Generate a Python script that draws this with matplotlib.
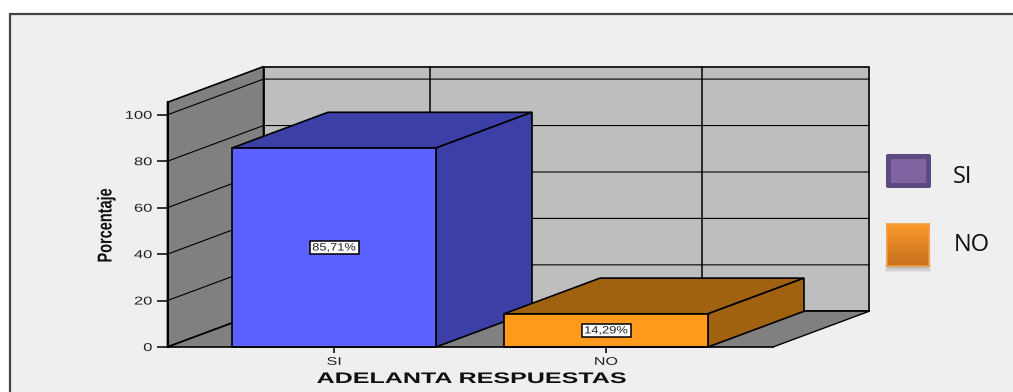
import numpy as np
import matplotlib
matplotlib.use("Agg")
import matplotlib.pyplot as plt
from matplotlib.patches import Polygon, Rectangle, FancyBboxPatch
from matplotlib.patheffects import AbstractPathEffect
from matplotlib.transforms import Affine2D
from matplotlib.colors import LinearSegmentedColormap

categories = ["SI", "NO"]
values = [85.71, 14.29]
value_labels = ["85,71%", "14,29%"]
y_ticks = [0, 20, 40, 60, 80, 100]
xlabel = "ADELANTA RESPUESTAS"
ylabel = "Porcentaje"
legend_labels = ["SI", "NO"]

W, H = 1013, 392
SANS = "Liberation Sans"


class Stretch(AbstractPathEffect):
    """Scale a text's glyphs, as the stretched image in the reference does."""

    def __init__(self, sx=1.0, sy=1.0, anchor="center"):
        super().__init__()
        self.sx, self.sy, self.anchor = sx, sy, anchor

    def draw_path(self, renderer, gc, tpath, affine, rgbFace=None):
        bb = tpath.get_extents(affine)
        ax_ = bb.x1 if self.anchor == "right" else (bb.x0 + bb.x1) / 2
        ay_ = (bb.y0 + bb.y1) / 2
        t = affine + Affine2D().translate(-ax_, -ay_).scale(self.sx, self.sy).translate(ax_, ay_)
        renderer.draw_path(gc, tpath, t, rgbFace)


fig = plt.figure(figsize=(W / 100, H / 100), dpi=100, facecolor="white")
px = Affine2D().scale(1 / W, -1 / H).translate(0, 1) + fig.transFigure

# panel frame
fig.add_artist(Rectangle((10, 14), W, H, transform=px, facecolor="#efefef",
                         edgecolor="#444444", linewidth=1.6, zorder=-5))

L, R, B, T = 167.5, 773, 347, 102.3
ax = fig.add_axes([L / W, 1 - B / H, (R - L) / W, (B - T) / H], zorder=1)
ax.patch.set_alpha(0)
unit = 272.0
vscale = 2.322
ax.set_xlim((L - 334) / unit, (R - 334) / unit)
ax.set_ylim(0, (B - T) / vscale)
ymax = ax.get_ylim()[1]
x0, x1 = ax.get_xlim()
DX, DY = 96 / unit, 35.7 / vscale
BW = 204 / unit


def poly(pts, fc, lw=1.2, z=2):
    ax.add_patch(Polygon(pts, closed=True, facecolor=fc, edgecolor="black",
                         linewidth=lw, zorder=z, clip_on=False))


# walls and floor
poly([(x0 + DX, DY), (x1 + DX, DY), (x1 + DX, ymax + DY), (x0 + DX, ymax + DY)], "#bebebe", z=1)
poly([(x0, 0), (x0 + DX, DY), (x0 + DX, ymax + DY), (x0, ymax)], "#808080", z=1)
ax.add_patch(Polygon([(x0, 0), (x1, 0), (x1 + DX, DY), (x0 + DX, DY)], closed=True,
                     facecolor="#808080", edgecolor="none", zorder=1.1, clip_on=False))
ax.plot([x0, x0 + DX], [0, DY], color="black", lw=1.2, zorder=1.2, clip_on=False)
ax.plot([x1, x1 + DX], [0, DY], color="black", lw=1.0, zorder=1.2, clip_on=False)
ax.plot([x0 + DX, x1 + DX], [DY, DY], color="black", lw=1.2, zorder=1.2, clip_on=False)

# grid
for t in y_ticks[1:]:
    ax.plot([x0, x0 + DX, x1 + DX], [t, t + DY, t + DY], color="black", lw=0.8,
            zorder=1.2, clip_on=False)
for i in range(len(categories)):
    ax.plot([i + DX, i + DX], [DY, ymax + DY], color="black", lw=1.1, zorder=1.2, clip_on=False)

# bars
front_colors = ["#5b62ff", "#ff9a1d"]
top_colors = ["#3c3fa6", "#a06210"]
for i, v in enumerate(values):
    a, b = i - BW / 2, i + BW / 2
    z = 3 + i
    poly([(a, v), (b, v), (b + DX, v + DY), (a + DX, v + DY)], top_colors[i], z=z)
    poly([(b, 0), (b + DX, DY), (b + DX, v + DY), (b, v)], top_colors[i], z=z)
    poly([(a, 0), (b, 0), (b, v), (a, v)], front_colors[i], z=z + 0.1)
    bw, bh = 49 / unit, 13 / vscale
    ax.add_patch(Rectangle((i - bw / 2, v / 2 - bh / 2), bw, bh, facecolor="white",
                           edgecolor="black", linewidth=1.1, zorder=z + 0.2))
    ax.text(i, v / 2, value_labels[i], ha="center", va="center", fontsize=7.6,
            family=SANS, color="#222222", zorder=z + 0.3,
            path_effects=[Stretch(sx=1.22)])

# axes furniture
for s in ["top", "right"]:
    ax.spines[s].set_visible(False)
ax.spines["left"].set_linewidth(1.5)
ax.spines["left"].set_zorder(6)
ax.spines["bottom"].set_linewidth(1.2)
ax.spines["bottom"].set_zorder(6)
ax.set_yticks(y_ticks)
ax.set_xticks(range(len(categories)), categories)
ax.tick_params(axis="y", length=8, width=1.1, labelsize=8.2, pad=3, labelcolor="#222222")
ax.tick_params(axis="x", length=4.3, width=1.1, labelsize=8, pad=2.8, labelcolor="#222222")
for lab in ax.get_yticklabels():
    lab.set_family(SANS)
    lab.set_path_effects([Stretch(sx=1.45, anchor="right")])
for lab in ax.get_xticklabels():
    lab.set_family(SANS)
    lab.set_path_effects([Stretch(sx=1.45)])

fig.text(471 / W, 1 - 379 / H, xlabel, ha="center", va="center", fontsize=11,
         family=SANS, fontweight="bold", color="#111111",
         path_effects=[Stretch(sx=1.64)])
fig.text(106 / W, 1 - 225.5 / H, ylabel, ha="center", va="center", rotation=90, fontsize=14.5,
         family=SANS, fontweight="bold", color="#111111",
         path_effects=[Stretch(sy=0.72)])

# legend
fig.add_artist(FancyBboxPatch((888, 156), 41, 30, boxstyle="round,pad=2,rounding_size=2",
                              transform=px, facecolor="#5d4a80", edgecolor="none"))
fig.add_artist(Rectangle((891, 159), 35, 24, transform=px, facecolor="#8064a2", edgecolor="none"))
for k in range(5, 0, -1):
    fig.add_artist(Rectangle((889 - k + 1, 262), 38 + 2 * k - 2, 4 + k + 1, transform=px,
                             facecolor="#777777", alpha=0.10, edgecolor="none"))
gax = fig.add_axes([887 / W, 1 - 266 / H, 42 / W, 42 / H], zorder=2)
gax.imshow(np.linspace(0, 1, 64).reshape(-1, 1),
           cmap=LinearSegmentedColormap.from_list("o", ["#fd9a2c", "#c5701d"]),
           aspect="auto")
gax.set_xticks([])
gax.set_yticks([])
for s in gax.spines.values():
    s.set_edgecolor("#f59a3c")
    s.set_linewidth(1.2)
for lab, xx, yy in zip(legend_labels, [953, 954], [177, 245]):
    fig.text(xx / W, 1 - yy / H, lab, ha="left", va="center", fontsize=17,
             family="Open Sans", color="#111111")

fig.savefig("out.png", dpi=100, facecolor="white")
